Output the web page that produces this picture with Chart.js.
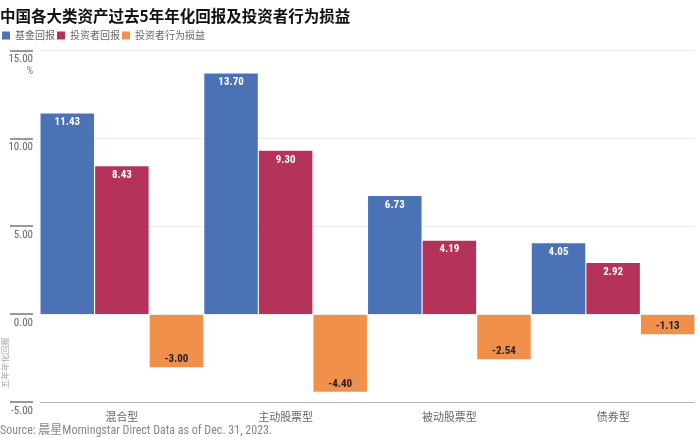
<!DOCTYPE html>
<html>
<head>
<meta charset="utf-8">
<script src="https://cdn.jsdelivr.net/npm/chart.js@4"></script>
<style>
  html, body { margin: 0; padding: 0; background: #fff; }
  #wrap { width: 700px; height: 438px; }
</style>
</head>
<body>
<div id="wrap"><canvas id="c"></canvas></div>
<script>
const NARROW = "'Liberation Sans Narrow', 'Roboto Condensed', 'Noto Sans CJK SC', sans-serif";
const CJK = "'Noto Sans CJK SC', sans-serif";

const categories = ['混合型', '主动股票型', '被动股票型', '债券型'];
const fundReturn = [11.43, 13.70, 6.73, 4.05];
const investorReturn = [8.43, 9.30, 4.19, 2.92];
const behaviorGap = [-3.00, -4.40, -2.54, -1.13];
const seriesNames = ['基金回报', '投资者回报', '投资者行为损益'];
const yTicks = [-5, 0, 5, 10, 15];

const colors = {
  fund: '#4a72b5',
  investor: '#b5335b',
  gap: '#f0904b',
};

// value labels inside bars
const barLabels = {
  id: 'barLabels',
  afterDatasetsDraw(chart) {
    const ctx = chart.ctx;
    ctx.save();
    ctx.font = 'bold 11px ' + NARROW;
    ctx.textAlign = 'center';
    ctx.textBaseline = 'middle';
    chart.data.datasets.forEach((ds, i) => {
      chart.getDatasetMeta(i).data.forEach((bar, j) => {
        const v = ds.data[j];
        if (v >= 0) {
          ctx.fillStyle = '#fff';
          ctx.fillText(v.toFixed(2), bar.x, bar.y + 9);
        } else {
          ctx.fillStyle = '#222';
          ctx.fillText(v.toFixed(2), bar.x, bar.y - 8);
        }
      });
    });
    ctx.restore();
  }
};

// y tick marks left of the axis labels, unit and axis title
const yDecor = {
  id: 'yDecor',
  afterDraw(chart) {
    const ctx = chart.ctx;
    const y = chart.scales.y;
    ctx.save();
    ctx.setTransform(1, 0, 0, 1, 0, 0);
    ctx.globalAlpha = 1;
    ctx.fillStyle = '#999';
    for (const t of yTicks) {
      const py = Math.round(y.getPixelForValue(t));
      ctx.fillRect(10, py - 1, 23, 2);
    }
    ctx.fillStyle = '#777';
    ctx.font = '10px ' + NARROW;
    ctx.textAlign = 'right';
    ctx.textBaseline = 'middle';
    ctx.fillText('%', 33, y.getPixelForValue(15) + 21);

    ctx.translate(5, y.getPixelForValue(-4.2));
    ctx.rotate(-Math.PI / 2);
    ctx.font = '8.5px ' + CJK;
    ctx.fillStyle = '#aaa';
    ctx.textAlign = 'left';
    ctx.fillText('五年年化回报', 0, 0);
    ctx.restore();
  }
};

new Chart(document.getElementById('c'), {
  type: 'bar',
  data: {
    labels: categories,
    datasets: [
      { label: seriesNames[0], data: fundReturn, backgroundColor: colors.fund },
      { label: seriesNames[1], data: investorReturn, backgroundColor: colors.investor },
      { label: seriesNames[2], data: behaviorGap, backgroundColor: colors.gap },
    ]
  },
  options: {
    responsive: true,
    maintainAspectRatio: false,
    animation: false,
    datasets: { bar: { categoryPercentage: 1, barPercentage: 0.98 } },
    layout: { padding: { left: 0, right: 5, top: 7, bottom: 0 } },
    plugins: {
      title: {
        display: true,
        text: '中国各大类资产过去5年年化回报及投资者行为损益',
        align: 'start',
        color: '#111',
        font: { family: CJK, size: 15.5, weight: 'bold' },
        padding: { top: 0, bottom: 3 },
      },
      legend: {
        position: 'top',
        align: 'start',
        labels: {
          boxWidth: 8, boxHeight: 8,
          padding: 2,
          color: '#666',
          font: { family: CJK, size: 10 },
        }
      },
      subtitle: {
        display: true,
        position: 'bottom',
        align: 'start',
        text: 'Source: 晨星Morningstar Direct Data as of Dec. 31, 2023.',
        color: '#888',
        font: { family: NARROW, size: 12 },
        padding: { top: 0, bottom: 0 },
      },
      tooltip: { enabled: false },
    },
    scales: {
      x: {
        grid: { display: false },
        border: { display: false },
        ticks: {
          color: '#666', padding: 0,
          font: { family: CJK, size: 11 },
        }
      },
      y: {
        min: -5, max: 15,
        afterBuildTicks: s => { s.ticks = yTicks.map(v => ({ value: v })); },
        afterFit: s => { s.width = 40; },
        border: { display: false },
        grid: {
          drawTicks: false,
          color: c => c.tick && c.tick.value === -5 ? '#b5b5b5' : '#ececec',
        },
        ticks: {
          color: '#666',
          padding: 7,
          labelOffset: 9,
          font: { family: NARROW, size: 11 },
          callback: v => v.toFixed(2),
        }
      }
    }
  },
  plugins: [barLabels, yDecor]
});
</script>
</body>
</html>
